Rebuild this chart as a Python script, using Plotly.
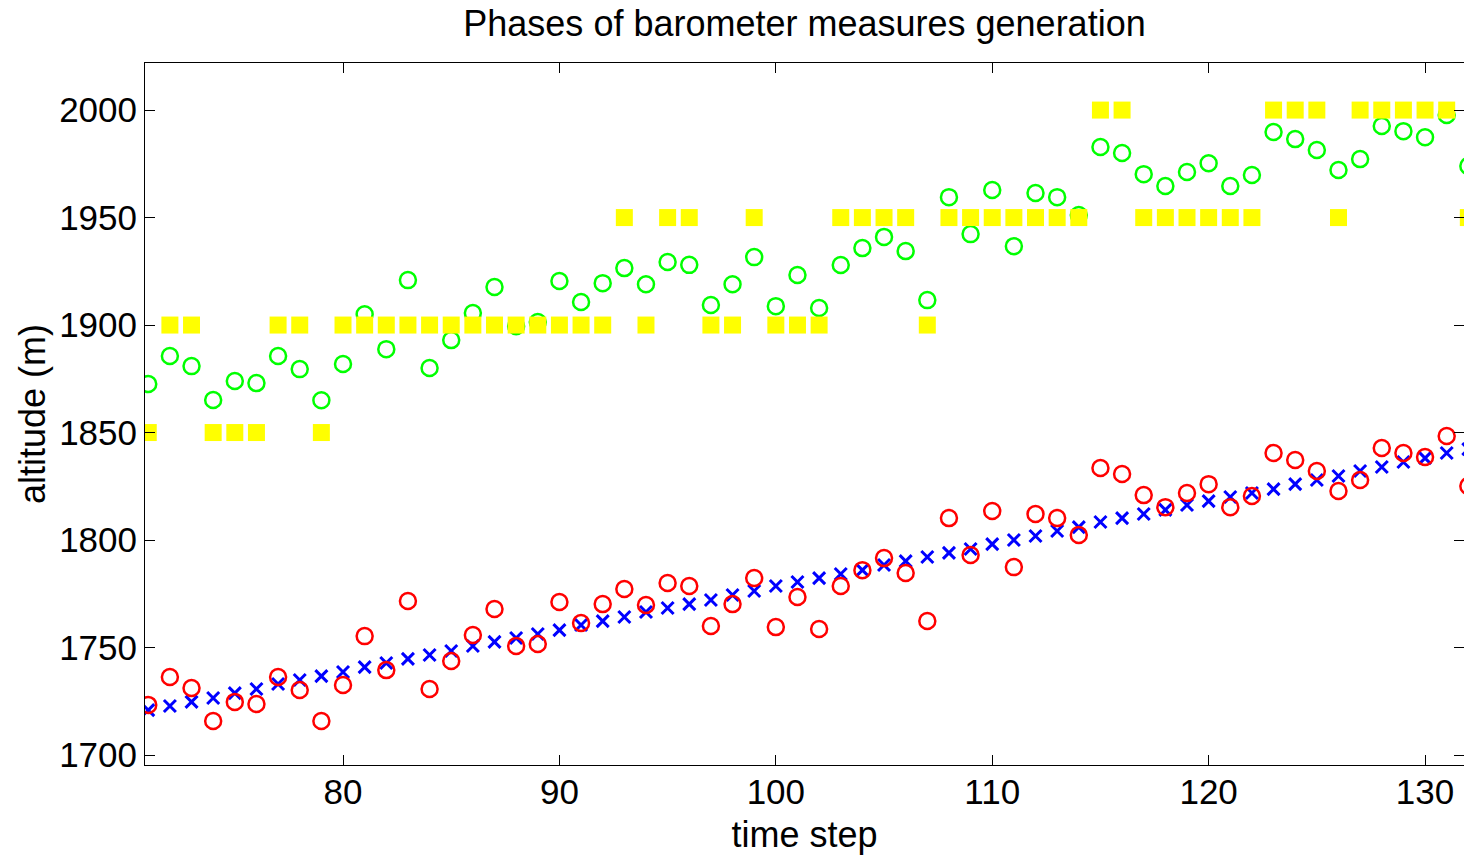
import plotly.graph_objects as go

time_step = list(range(71, 133))

true_alt = [1720.9, 1722.8, 1724.7, 1726.5, 1728.8, 1730.7, 1733.0, 1734.9, 1736.7, 1738.6,
            1740.9, 1742.8, 1744.7, 1746.5, 1748.4, 1750.7, 1752.6, 1754.4, 1756.3, 1758.1,
            1760.5, 1762.3, 1764.2, 1766.5, 1768.4, 1770.2, 1772.1, 1774.4, 1776.3, 1778.6,
            1780.5, 1782.3, 1784.2, 1786.0, 1788.4, 1790.2, 1792.1, 1794.0, 1795.8, 1798.1,
            1800.0, 1801.9, 1804.2, 1806.0, 1808.4, 1810.2, 1812.1, 1814.0, 1816.3, 1818.1,
            1820.0, 1821.9, 1823.7, 1826.0, 1827.9, 1829.8, 1832.1, 1834.0, 1836.3, 1838.1,
            1840.5, 1842.3]

noisy_alt = [1723.3, 1736.3, 1731.2, 1715.8, 1724.7, 1723.7, 1736.3, 1730.2, 1715.8, 1732.6,
             1755.3, 1739.5, 1771.6, 1730.7, 1743.7, 1755.8, 1767.9, 1750.7, 1751.6, 1771.2,
             1761.4, 1770.2, 1777.2, 1769.8, 1780.0, 1778.6, 1760.0, 1770.2, 1782.3, 1759.5,
             1773.5, 1758.6, 1778.6, 1786.0, 1791.6, 1784.7, 1762.3, 1810.2, 1793.0, 1813.5,
             1787.4, 1812.1, 1810.2, 1802.3, 1833.5, 1830.7, 1820.9, 1815.3, 1821.9, 1826.0,
             1815.3, 1820.5, 1840.5, 1837.2, 1832.1, 1822.8, 1827.9, 1842.8, 1840.5, 1838.6,
             1848.4, 1825.1]

offset_alt = [1872.6, 1885.6, 1880.9, 1865.1, 1874.0, 1873.0, 1885.6, 1879.5, 1865.0, 1881.9,
              1905.0, 1888.8, 1920.9, 1880.0, 1893.0, 1905.6, 1917.7, 1899.5, 1901.4, 1920.5,
              1910.7, 1919.5, 1926.5, 1919.0, 1929.3, 1928.0, 1909.3, 1919.0, 1931.6, 1908.8,
              1923.3, 1907.9, 1927.9, 1935.8, 1941.0, 1934.4, 1911.6, 1959.5, 1942.3, 1962.8,
              1936.7, 1961.4, 1959.5, 1951.2, 1982.8, 1980.0, 1970.2, 1964.7, 1971.2, 1975.3,
              1964.7, 1969.8, 1989.8, 1986.5, 1981.4, 1972.1, 1977.2, 1992.6, 1990.2, 1987.4,
              1997.7, 1974.0]

quantized_alt = [1850, 1900, 1900, 1850, 1850, 1850, 1900, 1900, 1850, 1900,
                 1900, 1900, 1900, 1900, 1900, 1900, 1900, 1900, 1900, 1900,
                 1900, 1900, 1950, 1900, 1950, 1950, 1900, 1900, 1950, 1900,
                 1900, 1900, 1950, 1950, 1950, 1950, 1900, 1950, 1950, 1950,
                 1950, 1950, 1950, 1950, 2000, 2000, 1950, 1950, 1950, 1950,
                 1950, 1950, 2000, 2000, 2000, 1950, 2000, 2000, 2000, 2000,
                 2000, 1950]

x_ticks = [80, 90, 100, 110, 120, 130]
y_ticks = [1700, 1750, 1800, 1850, 1900, 1950, 2000]

FONT = "Liberation Sans, Arial, sans-serif"

fig = go.Figure()

# open symbols take their stroke colour from marker.color
fig.add_trace(go.Scatter(
    x=time_step, y=true_alt, mode='markers', name='true',
    marker=dict(symbol='x-thin-open', size=12, color='#0000ff', line=dict(color='#0000ff', width=3)),
))
fig.add_trace(go.Scatter(
    x=time_step, y=noisy_alt, mode='markers', name='noisy',
    marker=dict(symbol='circle-open', size=16, color='#ff0000', line=dict(color='#ff0000', width=2.5)),
))
fig.add_trace(go.Scatter(
    x=time_step, y=offset_alt, mode='markers', name='offset',
    marker=dict(symbol='circle-open', size=16, color='#00ff00', line=dict(color='#00ff00', width=2.5)),
))
fig.add_trace(go.Scatter(
    x=time_step, y=quantized_alt, mode='markers', name='quantized',
    marker=dict(symbol='square', size=17, color='#ffff00', line=dict(width=0)),
))

axis_style = dict(
    showgrid=False, zeroline=False, automargin=False,
    showline=True, linecolor='black', linewidth=1, mirror='ticks',
    ticks='inside', ticklen=10, tickcolor='black', tickwidth=1,
    tickfont=dict(family=FONT, size=35, color='black'),
)

fig.update_xaxes(range=[70.85, 131.8], tickvals=x_ticks, ticklabelstandoff=-4,
                 title=dict(text='time step', font=dict(family=FONT, size=36, color='black'), standoff=12),
                 **axis_style)
fig.update_yaxes(range=[1695.35, 2021.9], tickvals=y_ticks,
                 title=dict(text='altitude (m)', font=dict(family=FONT, size=36, color='black'), standoff=2),
                 **axis_style)

fig.update_layout(
    width=1464, height=855,
    title=dict(text='Phases of barometer measures generation', xref='paper', x=0.5, xanchor='center',
               y=0.973, yanchor='middle', font=dict(family=FONT, size=36, color='black')),
    showlegend=False,
    plot_bgcolor='white', paper_bgcolor='white',
    margin=dict(l=145, r=0, t=63, b=90),
)

# drop the default 8px body margin so the figure fills the window exactly
fig.write_html("out.html", config={'displayModeBar': False},
               post_script="document.body.style.margin='0';")
